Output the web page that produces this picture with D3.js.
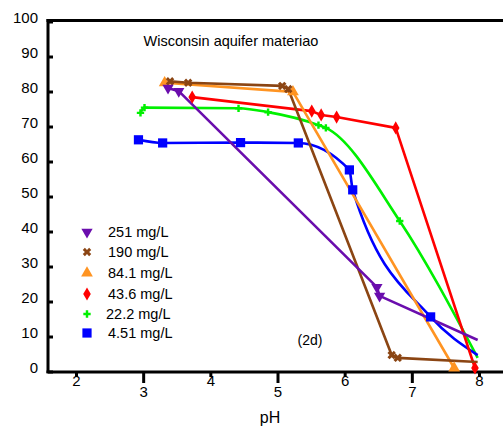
<!DOCTYPE html>
<html>
<head>
<meta charset="utf-8">
<script src="https://cdn.jsdelivr.net/npm/d3@7"></script>
<style>
  body { margin: 0; background: #fff; }
  svg { display: block; font-family: "Liberation Sans", Arial, sans-serif; }
</style>
</head>
<body>
<div id="chart"></div>
<script>
// series labels and colours
const seriesNames = ["251 mg/L", "190 mg/L", "84.1 mg/L", "43.6 mg/L", "22.2 mg/L", "4.51 mg/L"];
const seriesColors = ["#6a0dad", "#8b4513", "#ff9422", "#ff0000", "#00f000", "#0000ff"];

// measured points (pH, percent)
const ph251 = [3.37, 3.53, 6.48, 6.52];
const val251 = [81.0, 80.1, 24.1, 21.6];
const ph190 = [3.40, 3.67, 5.07, 5.16, 6.70, 6.79];
const val190 = [82.9, 82.5, 81.6, 80.7, 4.7, 3.9];
const ph84 = [3.32, 5.23, 7.63];
const val84 = [82.5, 79.9, 1.0];
const ph43 = [3.73, 5.51, 5.65, 5.88, 6.76, 7.94];
const val43 = [78.4, 74.4, 73.3, 72.7, 69.6, 1.0];
const ph22 = [2.96, 3.02, 4.42, 4.86, 5.61, 5.72, 6.82];
const val22 = [73.9, 75.4, 75.2, 74.1, 70.4, 69.6, 43.0];
const ph451 = [2.93, 3.29, 4.45, 5.31, 6.07, 6.12, 7.28];
const val451 = [66.2, 65.3, 65.4, 65.3, 57.6, 51.9, 15.6];

// where the fitted line runs out past the last marker (null = stops at marker)
const tailPh = [7.98, 7.98, null, null, 7.98, 7.98];
const tailVal = [9.0, 2.7, null, null, 3.9, 4.7];

const xTicks = [2, 3, 4, 5, 6, 7, 8];
const yTicks = [0, 10, 20, 30, 40, 50, 60, 70, 80, 90, 100];

const width = 503, height = 428;

const svg = d3.select("#chart").append("svg")
  .attr("width", width)
  .attr("height", height);

const x = d3.scaleLinear().domain([2, 8]).range([76, 479]);
const y = d3.scaleLinear().domain([0, 100]).range([371.5, 21.5]);

// frame top line
svg.append("line")
  .attr("x1", 46.5).attr("x2", width)
  .attr("y1", 20.5).attr("y2", 20.5)
  .attr("stroke", "#000").attr("stroke-width", 3);

// y axis
const yAxis = svg.append("g")
  .attr("transform", "translate(48,0)")
  .call(d3.axisLeft(y).tickValues(yTicks).tickFormat(d3.format("d"))
    .tickSizeInner(-5).tickSizeOuter(0).tickPadding(10));
yAxis.select(".domain").remove();
yAxis.selectAll(".tick line").attr("stroke-width", 3);
yAxis.selectAll(".tick text")
  .attr("y", -4)
  .style("font-size", "15px")
  .attr("fill", "#000");
svg.append("line")
  .attr("x1", 48).attr("x2", 48)
  .attr("y1", 19).attr("y2", 373)
  .attr("stroke", "#000").attr("stroke-width", 3);

// x axis
const xAxis = svg.append("g")
  .attr("transform", "translate(0,372)")
  .call(d3.axisBottom(x).tickValues(xTicks).tickFormat(d3.format("d")).tickSizeOuter(0));
xAxis.select(".domain").remove();
xAxis.selectAll(".tick line")
  .attr("y2", d => d % 2 ? 11 : 5)
  .attr("stroke-width", 3);
xAxis.selectAll(".tick text")
  .attr("y", d => d % 2 ? 14 : 3)
  .style("font-size", "15px")
  .attr("fill", "#000");
svg.append("line")
  .attr("x1", 46.5).attr("x2", width)
  .attr("y1", 372).attr("y2", 372)
  .attr("stroke", "#000").attr("stroke-width", 3);

svg.append("text")
  .attr("x", 270).attr("y", 423)
  .attr("text-anchor", "middle")
  .style("font-size", "16px")
  .text("pH");

svg.append("text")
  .attr("x", 231).attr("y", 46)
  .attr("text-anchor", "middle")
  .style("font-size", "14.5px")
  .text("Wisconsin aquifer materiao");

svg.append("text")
  .attr("x", 310).attr("y", 345)
  .attr("text-anchor", "middle")
  .style("font-size", "14px")
  .text("(2d)");

// build series
const phs = [ph251, ph190, ph84, ph43, ph22, ph451];
const vals = [val251, val190, val84, val43, val22, val451];
const series = seriesNames.map((name, i) => {
  const pts = phs[i].map((p, j) => [p, vals[i][j]]);
  const linePts = tailPh[i] == null ? pts : pts.concat([[tailPh[i], tailVal[i]]]);
  return { name, color: seriesColors[i], pts, linePts, idx: i };
});

// the two low-concentration fits are smooth, the rest are point-to-point
const curves = [d3.curveLinear, d3.curveLinear, d3.curveLinear, d3.curveLinear,
  d3.curveMonotoneX, d3.curveMonotoneX];

// draw order: back to front roughly like the original
const order = [4, 5, 3, 2, 1, 0];

order.forEach(i => {
  const s = series[i];
  const line = d3.line()
    .x(d => x(d[0]))
    .y(d => y(d[1]))
    .curve(curves[i]);
  svg.append("path")
    .datum(s.linePts)
    .attr("d", line)
    .attr("fill", "none")
    .attr("stroke", s.color)
    .attr("stroke-width", 2.6)
    .attr("stroke-linejoin", "round");
});

// marker shapes
const shapes = [
  { type: d3.symbolTriangle, size: 55, rot: 180 },
  { type: d3.symbolCross, size: 45, rot: 45 },
  { type: d3.symbolTriangle, size: 60, rot: 0 },
  { type: d3.symbolDiamond, size: 50, rot: 0 },
  { type: d3.symbolCross, size: 30, rot: 0 },
  { type: d3.symbolSquare, size: 85, rot: 0 }
];

order.forEach(i => {
  const s = series[i];
  const sh = shapes[i];
  svg.append("g")
    .selectAll("path")
    .data(s.pts)
    .join("path")
    .attr("d", d3.symbol().type(sh.type).size(sh.size)())
    .attr("transform", p => `translate(${x(p[0])},${y(p[1])}) rotate(${sh.rot})`)
    .attr("fill", s.color);
});

// legend
const legendY = [232, 252, 273, 294, 314, 333];
const legend = svg.append("g");
series.forEach((s, i) => {
  const sh = shapes[i];
  legend.append("path")
    .attr("d", d3.symbol().type(sh.type).size(sh.size)())
    .attr("transform", `translate(87,${legendY[i]}) rotate(${sh.rot})`)
    .attr("fill", s.color);
  legend.append("text")
    .attr("x", i === 4 ? 106 : 108)
    .attr("y", legendY[i] + 5)
    .style("font-size", "14.5px")
    .text(s.name);
});
</script>
</body>
</html>
